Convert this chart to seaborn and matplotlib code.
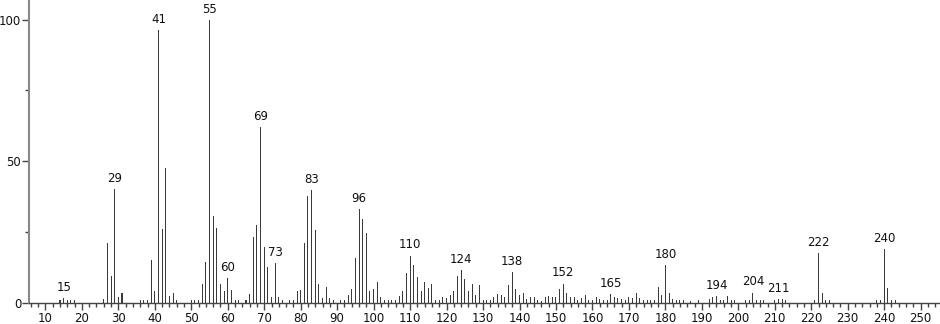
import matplotlib
matplotlib.use("Agg")
import matplotlib.pyplot as plt
from matplotlib.ticker import MultipleLocator
import seaborn as sns
import pandas as pd

# m/z values and relative intensities
mz = [14, 15, 16, 17, 18, 26, 27, 28, 29, 30, 31, 36, 37, 38, 39, 40, 41, 42, 43, 44,
      45, 46, 50, 51, 52, 53, 54, 55, 56, 57, 58, 59, 60, 61, 62, 63, 65, 66, 67, 68,
      69, 70, 71, 72, 73, 74, 75, 77, 78, 79, 80, 81, 82, 83, 84, 85, 86, 87, 88, 89,
      91, 92, 93, 94, 95, 96, 97, 98, 99, 100, 101, 102, 103, 104, 105, 106, 107, 108, 109, 110,
      111, 112, 113, 114, 115, 116, 117, 118, 119, 120, 121, 122, 123, 124, 125, 126, 127, 128, 129, 130,
      131, 132, 133, 134, 135, 136, 137, 138, 139, 140, 141, 142, 143, 144, 145, 146, 147, 148, 149, 150,
      151, 152, 153, 154, 155, 156, 157, 158, 159, 160, 161, 162, 163, 164, 165, 166, 167, 168, 169, 170,
      171, 172, 173, 174, 175, 176, 177, 178, 179, 180, 181, 182, 183, 184, 185, 187, 189, 192, 193, 194,
      195, 196, 197, 198, 199, 202, 203, 204, 205, 206, 207, 210, 211, 212, 213, 221, 222, 223, 224, 225,
      238, 239, 240, 241, 242, 243]
intensity = [0.8, 1.5, 0.8, 0.8, 1.0, 1.3, 21.0, 9.2, 40.0, 1.8, 3.3, 0.8, 0.8, 0.8, 15.1, 4.2, 96.3, 26.0, 47.5, 2.4,
             3.3, 1.0, 0.8, 0.8, 0.8, 6.6, 14.4, 100.0, 30.6, 26.3, 6.6, 4.1, 8.6, 4.5, 1.0, 1.0, 1.0, 2.9, 23.3, 27.4,
             62.0, 19.7, 12.7, 1.9, 13.8, 2.0, 1.0, 1.0, 1.0, 4.2, 4.5, 21.0, 37.6, 39.7, 25.7, 6.6, 1.5, 5.4, 1.5, 1.0,
             1.0, 0.8, 2.8, 4.7, 15.7, 33.0, 29.6, 24.5, 4.2, 4.7, 7.4, 2.0, 1.0, 1.0, 1.0, 1.0, 2.4, 4.0, 10.6, 16.6,
             13.2, 9.1, 4.0, 7.4, 5.2, 6.5, 1.0, 0.8, 1.8, 1.5, 2.5, 4.2, 9.5, 11.4, 8.4, 4.0, 6.5, 2.5, 6.2, 1.0,
             0.8, 0.8, 1.8, 3.1, 2.6, 1.9, 6.2, 10.8, 4.9, 2.5, 3.3, 1.2, 1.8, 2.0, 0.8, 0.5, 1.8, 2.4, 1.8, 1.8,
             4.9, 6.7, 3.3, 2.1, 2.1, 1.0, 1.5, 2.5, 1.0, 0.8, 1.8, 1.2, 1.0, 1.0, 3.1, 2.0, 1.5, 1.2, 1.0, 2.1,
             1.5, 3.4, 1.6, 1.0, 1.0, 1.0, 1.0, 5.4, 2.8, 13.3, 3.3, 1.2, 1.0, 0.8, 0.8, 0.5, 0.8, 1.2, 2.0, 2.4,
             1.0, 0.8, 2.4, 1.0, 0.8, 0.8, 1.0, 3.5, 1.0, 1.0, 0.8, 0.8, 1.2, 1.2, 0.8, 1.0, 17.4, 3.4, 1.0, 0.8,
             0.8, 1.0, 18.8, 5.2, 1.0, 0.8]

labeled_peaks = [15, 29, 41, 55, 60, 69, 73, 83, 96, 110, 124, 138, 152, 165, 180, 194, 204, 211, 222, 240]

x_ticks = list(range(10, 251, 10))
y_ticks = [0, 50, 100]

df = pd.DataFrame({"mz": mz, "intensity": intensity})

sns.set_style("white")
plt.rcParams["font.family"] = ["DejaVu Sans"]

fig = plt.figure(figsize=(9.4, 3.24), dpi=100)
ax = fig.add_axes([29 / 940, 1 - 302.5 / 324, 1 - 29 / 940, 302.5 / 324])

sns.barplot(data=df, x="mz", y="intensity", native_scale=True, width=0.28,
            color="#3a3a3a", saturation=1, errorbar=None, linewidth=0, ax=ax)

ax.set_xlim(5.5, 255.3)
ax.set_ylim(0, 107)

lookup = dict(zip(mz, intensity))
for p in labeled_peaks:
    ax.annotate(str(p), (p, lookup[p]), xytext=(0, 3), textcoords="offset points",
                ha="center", va="bottom", fontsize=8.5, color="#111111")

ax.set_xticks(x_ticks)
ax.set_xticklabels([str(t) for t in x_ticks])
ax.xaxis.set_minor_locator(MultipleLocator(2))
ax.set_yticks(y_ticks)
ax.set_yticklabels([str(t) for t in y_ticks])
ax.yaxis.set_minor_locator(MultipleLocator(25))

ax.tick_params(axis="x", which="major", direction="out", length=5, width=1,
               color="#444444", labelsize=8.5, labelcolor="#111111", pad=2,
               bottom=True)
ax.tick_params(axis="y", which="major", direction="out", length=5, width=1,
               color="#444444", labelsize=8.5, labelcolor="#111111", pad=0.5,
               left=True)
ax.tick_params(axis="x", which="minor", direction="out", length=3, width=1,
               color="#444444", bottom=True)
ax.tick_params(axis="y", which="minor", direction="out", length=3, width=1,
               color="#444444", left=True)

ax.set_xlabel("")
ax.set_ylabel("")
for side in ["top", "right"]:
    ax.spines[side].set_visible(False)
ax.spines["left"].set_color("#888888")
ax.spines["left"].set_linewidth(1.5)
ax.spines["bottom"].set_color("#444444")
ax.spines["bottom"].set_linewidth(1)

fig.savefig("out.png", dpi=100)
